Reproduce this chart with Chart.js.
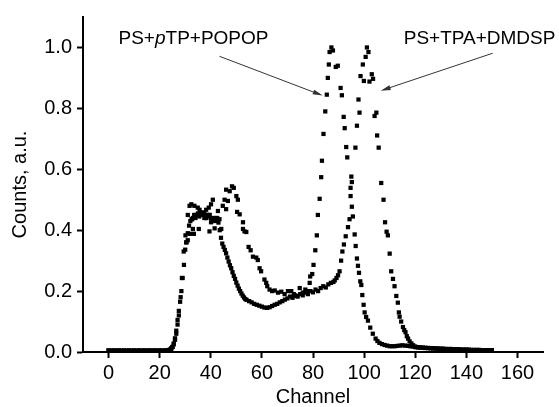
<!DOCTYPE html>
<html>
<head>
<meta charset="utf-8">
<script src="https://cdn.jsdelivr.net/npm/chart.js@4.4.0/dist/chart.umd.min.js"></script>
<style>
  body { margin: 0; background: #fff; }
  canvas { display: block; }
</style>
</head>
<body>
<canvas id="myChart" width="559" height="407"></canvas>
<script>
/* PS+TPA+DMDSP : canal y cuentas */
const chTPA = [
  0,1,2,3,4,5,6,7,8,9,10,11,12,13,14,15,16,17,18,19,20,21,22,23,
  23.5,24,24.5,25,25.5,26,26.5,27,27.5,28,28.5,29,29.5,30,30.5,31,31.5,32,32.5,33,33.5,34,34.5,35,35.5,36,36.5,37,37.5,38,38.5,39,39.5,40,40.5,41,41.5,42,42.5,43,43.5,44,44.5,45,45.5,46,46.5,47,47.5,48,48.5,49,49.5,50,50.5,51,51.5,52,52.5,53,53.5,54,
  55,56,57,58,59,60,61,62,63,64,65,66,67,68,69,70,71,72,73,74,75,76,77,78,79,80,81,82,83,84,85,86,87,88,
  88.5,89.2,89.8,90.4,91,91.5,92.1,92.8,93.7,94.3,94.7,95,95.2,96.6,97.2,97.8,98.2,98.6,99.5,99.9,100.6,101.1,101.7,102.1,103,103.5,104.1,104.8,105.1,105.7,106.7,107.6,108.2,108.8,109.3,110,110.6,111.3,111.9,112.6,113.2,113.6,113.9,114.5,115.2,115.7,116.2,116.7,117.2,117.8,118.5,119.2,
  120,121,122,123,124,125,126,127,128,129,130,131,132,133,134,135,136,137,138,139,140,141,142,143,144,145,146,147,148,149,150
];
const cntTPA = [
  0.005,0.005,0.005,0.005,0.005,0.005,0.005,0.005,0.005,0.005,0.005,0.005,0.005,0.005,0.005,0.005,0.005,0.005,0.005,0.005,0.005,0.005,0.005,0.005,
  0.006,0.008,0.012,0.017,0.028,0.045,0.07,0.105,0.135,0.165,0.2,0.243,0.286,0.336,0.36,0.39,0.415,0.43,0.436,0.44,0.45,0.44,0.45,0.455,0.445,0.45,0.458,0.45,0.455,0.44,0.45,0.445,0.45,0.44,0.43,0.44,0.435,0.43,0.44,0.425,0.4,0.375,0.356,0.345,0.335,0.324,0.31,0.297,0.285,0.275,0.262,0.25,0.24,0.228,0.218,0.208,0.2,0.192,0.185,0.179,0.174,0.171,
  0.167,0.163,0.158,0.155,0.152,0.149,0.146,0.145,0.147,0.151,0.155,0.158,0.163,0.167,0.172,0.176,0.182,0.178,0.186,0.182,0.19,0.186,0.195,0.19,0.2,0.196,0.205,0.2,0.21,0.216,0.212,0.222,0.227,0.23,
  0.235,0.243,0.252,0.265,0.3,0.33,0.353,0.38,0.41,0.436,0.539,0.576,0.558,0.671,0.743,0.829,0.786,0.906,0.944,0.89,0.969,1.0,0.985,0.888,0.912,0.897,0.775,0.786,0.711,0.671,0.555,0.5,0.426,0.395,0.383,0.323,0.265,0.24,0.216,0.184,0.162,0.13,0.116,0.1,0.082,0.072,0.065,0.052,0.044,0.035,0.028,0.022,
  0.018,0.016,0.015,0.014,0.013,0.013,0.012,0.012,0.011,0.011,0.01,0.01,0.009,0.009,0.009,0.008,0.008,0.008,0.007,0.007,0.007,0.006,0.006,0.006,0.006,0.005,0.005,0.005,0.005,0.005,0.005
];

/* PS+pTP+POPOP : canal y cuentas */
const chPOPOP = [
  0,2,4,6,8,10,12,14,16,18,20,22,23.5,24,24.5,25,25.5,26,26.5,27,27.5,28.2,28.7,29.4,30.1,30.4,31,31,31.7,31.9,32.4,32.7,33,33.4,33.6,34.3,34.9,35.3,35.6,36.9,37.5,38.2,38.2,39.2,39.5,39.5,40.1,40.1,40.8,41.5,42.1,42.8,43.4,44.1,44.7,45.4,46,46,46.7,47.4,48.3,49,50,50.3,50.6,51.3,52.6,52.6,53.2,53.9,54.8,55.6,56.5,57.8,58.4,59.1,59.7,61,61.7,62.1,63,64,65,66.3,67.6,68.9,70.2,71.5,72.5,73.5,74.8,76,77,78,
  78.7,78.9,79.7,80.2,80.9,81.5,81.9,82.6,83.2,83.5,84.1,84.8,85.4,85.8,86.2,86.5,87.2,87.8,88.9,89.7,90.8,91.3,92,92.4,93,93.4,94.7,95.2,95.6,96.3,96.7,97.2,97.6,98,98.5,98.9,99.3,99.8,100.2,100.8,101.5,102.4,103.4,104.5,105.2,106,107,108,109,110,111,112,113,114,115,116,117,118,119,120,
  121,122,123,124,125,126,127,128,129,130,131,132,133,134,135,136,137,138,139,140,141,142,143,144,145,146,147,148,149,150
];
const cntPOPOP = [
  0.005,0.005,0.005,0.005,0.005,0.005,0.005,0.005,0.005,0.005,0.005,0.005,0.006,0.007,0.01,0.016,0.025,0.04,0.06,0.09,0.12,0.18,0.243,0.33,0.383,0.36,0.367,0.45,0.48,0.388,0.485,0.436,0.404,0.388,0.48,0.45,0.474,0.404,0.467,0.458,0.44,0.467,0.44,0.474,0.396,0.45,0.485,0.426,0.5,0.406,0.44,0.463,0.436,0.404,0.48,0.5,0.533,0.469,0.496,0.528,0.544,0.539,0.512,0.46,0.5,0.452,0.426,0.404,0.396,0.394,0.345,0.334,0.313,0.31,0.302,0.275,0.265,0.238,0.227,0.216,0.205,0.2,0.202,0.195,0.198,0.19,0.2,0.2,0.19,0.184,0.21,0.195,0.205,0.2,
  0.227,0.248,0.256,0.286,0.334,0.383,0.45,0.503,0.574,0.628,0.716,0.79,0.845,0.9,0.944,0.985,1.0,0.99,0.936,0.94,0.867,0.843,0.772,0.735,0.673,0.639,0.512,0.477,0.445,0.386,0.348,0.307,0.283,0.26,0.232,0.22,0.187,0.155,0.13,0.115,0.103,0.08,0.06,0.044,0.036,0.03,0.026,0.023,0.021,0.019,0.019,0.019,0.02,0.021,0.022,0.021,0.02,0.019,0.018,0.016,
  0.015,0.015,0.014,0.014,0.013,0.013,0.012,0.012,0.011,0.011,0.011,0.01,0.01,0.01,0.009,0.009,0.009,0.008,0.008,0.008,0.008,0.007,0.007,0.007,0.007,0.006,0.006,0.006,0.006,0.006
];

const xTicks = [0, 20, 40, 60, 80, 100, 120, 140, 160];
const yTicks = [0, 0.2, 0.4, 0.6, 0.8, 1.0];

/* notas y flechas, en coordenadas de datos */
const notes = [
  { x: 3.9, y: 1.01, parts: [{ text: 'PS+' }, { text: 'p', italic: true }, { text: 'TP+POPOP' }] },
  { x: 115.5, y: 1.01, parts: [{ text: 'PS+TPA+DMDSP' }] }
];
const arrows = [
  { from: [43.4, 0.971], to: [83.8, 0.842] },
  { from: [150.3, 0.981], to: [106.5, 0.858] }
];

const FONT = '"Liberation Sans", Arial, Helvetica, sans-serif';

const notePlugin = {
  id: 'notes',
  afterDraw(chart) {
    const { ctx } = chart;
    const sx = chart.scales.x, sy = chart.scales.y;
    ctx.save();
    ctx.fillStyle = '#000';
    ctx.textBaseline = 'alphabetic';
    ctx.textAlign = 'left';
    notes.forEach(n => {
      let px = sx.getPixelForValue(n.x);
      const py = sy.getPixelForValue(n.y);
      n.parts.forEach(p => {
        ctx.font = (p.italic ? 'italic ' : '') + '19px ' + FONT;
        ctx.fillText(p.text, px, py);
        px += ctx.measureText(p.text).width;
      });
    });
    ctx.strokeStyle = '#333';
    ctx.fillStyle = '#333';
    ctx.lineWidth = 1;
    arrows.forEach(a => {
      const x0 = sx.getPixelForValue(a.from[0]), y0 = sy.getPixelForValue(a.from[1]);
      const x1 = sx.getPixelForValue(a.to[0]), y1 = sy.getPixelForValue(a.to[1]);
      const ang = Math.atan2(y1 - y0, x1 - x0);
      const c = Math.cos(ang), s = Math.sin(ang);
      ctx.beginPath();
      ctx.moveTo(x0, y0);
      ctx.lineTo(x1 - 6 * c, y1 - 6 * s);
      ctx.stroke();
      ctx.beginPath();
      ctx.moveTo(x1, y1);
      ctx.lineTo(x1 - 10 * c + 2.5 * s, y1 - 10 * s - 2.5 * c);
      ctx.lineTo(x1 - 10 * c - 2.5 * s, y1 - 10 * s + 2.5 * c);
      ctx.closePath();
      ctx.fill();
    });
    ctx.restore();
  }
};

const toXY = (xs, ys) => xs.map((v, i) => ({ x: v, y: ys[i] }));

const pointStyle = {
  showLine: false,
  pointStyle: 'rect',
  pointRadius: 3,
  pointBorderWidth: 0,
  backgroundColor: '#000',
  borderColor: '#000',
  clip: false
};

Chart.defaults.font.family = FONT;
Chart.defaults.color = '#000';

new Chart(document.getElementById('myChart'), {
  type: 'scatter',
  data: {
    datasets: [
      Object.assign({ label: 'PS+pTP+POPOP', data: toXY(chPOPOP, cntPOPOP) }, pointStyle),
      Object.assign({ label: 'PS+TPA+DMDSP', data: toXY(chTPA, cntTPA) }, pointStyle)
    ]
  },
  options: {
    responsive: false,
    devicePixelRatio: 1,
    animation: false,
    layout: { padding: { left: 0, right: 16, top: 11, bottom: 0 } },
    plugins: { legend: { display: false }, tooltip: { enabled: false } },
    scales: {
      x: {
        type: 'linear',
        min: -10,
        max: 170,
        afterBuildTicks: s => { s.ticks = xTicks.map(v => ({ value: v })); },
        afterFit: s => { s.height = 55; },
        grid: { display: true, drawOnChartArea: false, drawTicks: true, tickLength: 6, tickWidth: 2, color: '#000' },
        border: { display: true, color: '#000', width: 2 },
        ticks: { font: { size: 20 }, padding: 3, maxRotation: 0, color: '#000' },
        title: { display: true, text: 'Channel', font: { size: 20, lineHeight: 1 }, padding: { top: 0, bottom: 0 }, color: '#000' }
      },
      y: {
        type: 'linear',
        min: 0,
        max: 1.1,
        afterBuildTicks: s => { s.ticks = yTicks.map(v => ({ value: v })); },
        afterFit: s => { s.width = 83; },
        grid: { display: true, drawOnChartArea: false, drawTicks: true, tickLength: 6, tickWidth: 2, color: '#000' },
        border: { display: true, color: '#000', width: 2 },
        ticks: { font: { size: 20 }, padding: 5, color: '#000', callback: v => v.toFixed(1) },
        title: { display: true, text: 'Counts, a.u.', font: { size: 20, lineHeight: 1 }, padding: { top: 10, bottom: 0 }, color: '#000' }
      }
    }
  },
  plugins: [notePlugin]
});
</script>
</body>
</html>
